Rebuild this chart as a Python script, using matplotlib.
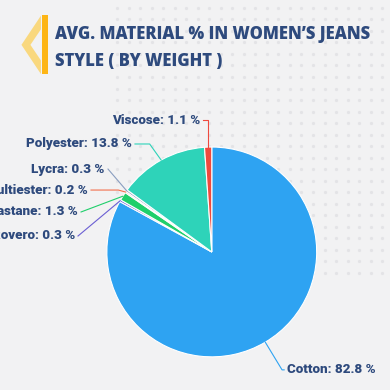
import matplotlib.pyplot as plt
from matplotlib.patches import Polygon, Rectangle
import numpy as np

materials = ['Cotton', 'Rovero', 'Elastane', 'Multiester', 'Lycra', 'Polyester', 'Viscose']
shares = [82.8, 0.3, 1.3, 0.2, 0.3, 13.8, 1.1]
colors = ['#2ea3f2', '#6b5fd3', '#1fcf6b', '#f2704f', '#8a9ec0', '#2ed3b9', '#ef4a3e']

# label text anchors (axes data coords, pie radius = 1)
label_pos = [(0.72, -1.124), (-1.305, 0.152), (-1.276, 0.381), (-1.181, 0.59),
             (-1.019, 0.79), (-0.762, 1.029), (-0.114, 1.257)]
label_ha = ['left', 'right', 'right', 'right', 'right', 'right', 'right']
knee_dx = [-0.05, 0.03, 0.03, 0.29, 0.03, 0.17, None]

fig = plt.figure(figsize=(3.9, 3.9), dpi=100)
fig.patch.set_facecolor('#f2f2f3')

# faint dot grid in the background
gx, gy = np.meshgrid(np.linspace(0.30, 0.98, 24), np.linspace(0.30, 0.98, 24))
fig.add_artist(plt.Line2D(gx.ravel(), gy.ravel(), ls='none', marker='o', ms=1.3,
                          color='#e3e3e6', transform=fig.transFigure, zorder=0))

# title icon
fig.patches.append(Polygon([[0.105, 0.96], [0.055, 0.885], [0.105, 0.81], [0.105, 0.845],
                            [0.078, 0.885], [0.105, 0.925]], closed=True,
                           transform=fig.transFigure, facecolor='#fbd46a', edgecolor='none', alpha=0.85))
fig.patches.append(Rectangle((0.108, 0.81), 0.014, 0.152, transform=fig.transFigure,
                             facecolor='#fdb515', edgecolor='none'))
fig.text(0.142, 0.912, "AVG. MATERIAL % IN WOMEN\u2019S JEANS", fontsize=12, fontweight='heavy',
         color='#2e4a7d', va='center', ha='left', family='Open Sans')
fig.text(0.142, 0.843, "STYLE ( BY WEIGHT )", fontsize=12, fontweight='heavy',
         color='#2e4a7d', va='center', ha='left', family='Open Sans')

ax = fig.add_axes([0.274, 0.085, 0.538, 0.538])
ax.set_facecolor('none')
wedges, _ = ax.pie(shares, colors=colors, startangle=90, counterclock=False,
                   wedgeprops=dict(edgecolor='white', linewidth=0.8))
ax.set_xlim(-1, 1)
ax.set_ylim(-1, 1)
ax.set_aspect('equal')

for w, name, val, col, (tx, ty), ha, dx in zip(wedges, materials, shares, colors,
                                                label_pos, label_ha, knee_dx):
    mid = np.deg2rad((w.theta1 + w.theta2) / 2)
    ex, ey = np.cos(mid), np.sin(mid)
    gap = 0.03 if ha == 'right' else -0.03
    kx = ex if dx is None else tx + dx
    ax.plot([ex, kx, tx + gap], [ey, ty, ty], color=col, lw=0.8, clip_on=False)
    ax.text(tx, ty, f"{name}: {val} %", ha=ha, va='center', fontsize=9.6,
            fontweight='heavy', color='#2e4a7d', family='Roboto', clip_on=False)

fig.savefig('out.png', dpi=100, facecolor=fig.get_facecolor())
